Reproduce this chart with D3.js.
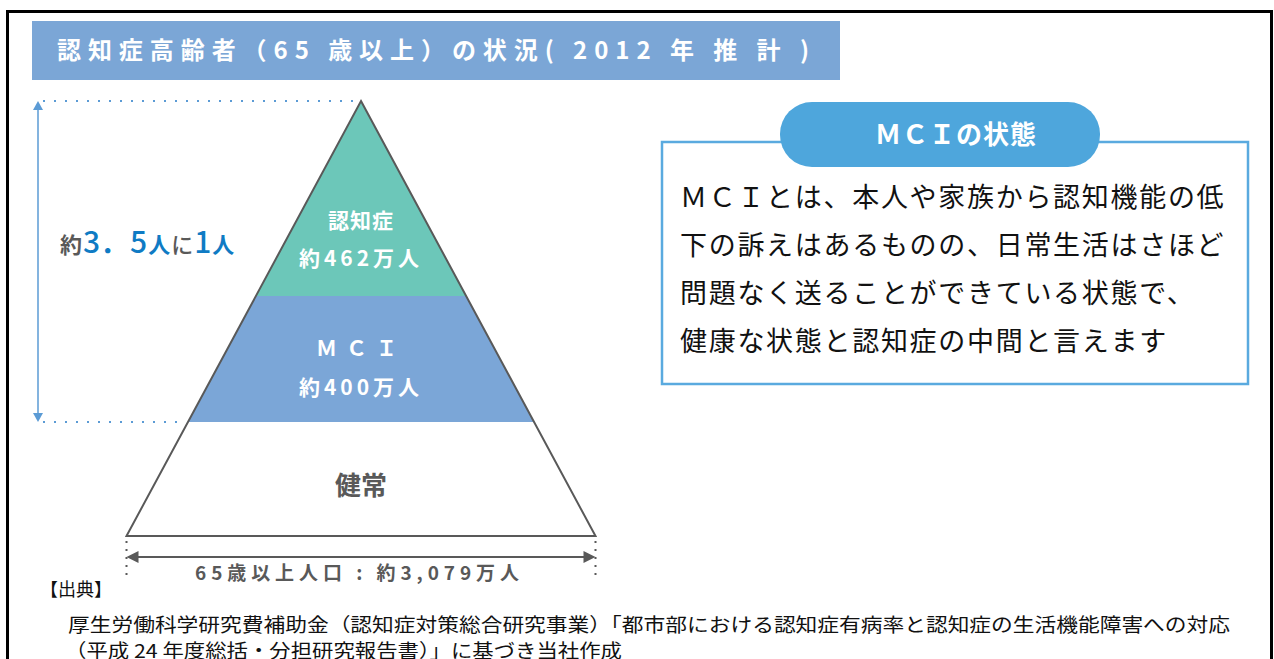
<!DOCTYPE html>
<html>
<head>
<meta charset="utf-8">
<script src="https://cdn.jsdelivr.net/npm/d3@7"></script>
<style>
  body { margin: 0; background: #fff; }
  svg { display: block; font-family: "Noto Sans CJK JP", "Noto Sans", sans-serif; }
</style>
</head>
<body>
<svg class="chart"></svg>
<script>
// data
const segments = ["認知症", "ＭＣＩ", "健常"];
const segmentValues = [462, 400, null];   // 万人
const totalPopulation = "3,079";          // 65歳以上人口 (万人)
const ratioParts = ["約", "3．5", "人", "に", "1", "人"];
const titleText = "認知症高齢者（65 歳以上）の状況( 2012 年 推 計 )";
const boxTitle = "ＭＣＩの状態";
const boxLines = [
  "ＭＣＩとは、本人や家族から認知機能の低",
  "下の訴えはあるものの、日常生活はさほど",
  "問題なく送ることができている状態で、",
  "健康な状態と認知症の中間と言えます"
];
const sourceLines = [
  "【出典】",
  "厚生労働科学研究費補助金（認知症対策総合研究事業）「都市部における認知症有病率と認知症の生活機能障害への対応",
  "（平成 24 年度総括・分担研究報告書）」に基づき当社作成"
];

// layout: where the bands split along the pyramid height (0 = apex, 1 = base)
const bandBreaks = [0, 0.448, 0.738, 1];
const bandFill = ["#6cc7b9", "#7ba6d7", "#ffffff"];

const width = 1274, height = 659;

const svg = d3.select(".chart")
  .attr("width", width)
  .attr("height", height);

// outer frame
svg.append("rect")
  .attr("x", 7.5).attr("y", 11.5)
  .attr("width", 1264).attr("height", 700)
  .attr("fill", "none")
  .attr("stroke", "#000")
  .attr("stroke-width", 3);

// title bar
svg.append("rect")
  .attr("x", 32).attr("y", 21)
  .attr("width", 808).attr("height", 59)
  .attr("fill", "#7ba6d6");

svg.append("text")
  .attr("x", 57).attr("y", 59)
  .attr("fill", "#fff")
  .attr("font-size", 24)
  .attr("font-weight", "bold")
  .attr("textLength", 752)
  .attr("lengthAdjust", "spacing")
  .text(titleText);

// pyramid scales
const apexX = 361;
const y = d3.scaleLinear().domain([0, 1]).range([101, 536]);
const halfW = d3.scaleLinear().domain([0, 1]).range([0, 234.5]);

const bands = segments.map((name, i) => ({
  name, value: segmentValues[i], fill: bandFill[i],
  t0: bandBreaks[i], t1: bandBreaks[i + 1]
}));

const bandPath = d => {
  const pts = [
    [apexX - halfW(d.t0), y(d.t0)], [apexX + halfW(d.t0), y(d.t0)],
    [apexX + halfW(d.t1), y(d.t1)], [apexX - halfW(d.t1), y(d.t1)]
  ];
  return "M" + pts.join("L") + "Z";
};

svg.selectAll("path.band")
  .data(bands)
  .enter()
  .append("path")
    .attr("class", "band")
    .attr("d", bandPath)
    .attr("fill", d => d.fill);

// outline
svg.append("path")
  .attr("d", `M${apexX},${y(0)}L${apexX + halfW(1)},${y(1)}L${apexX - halfW(1)},${y(1)}Z`)
  .attr("fill", "none")
  .attr("stroke", "#595959")
  .attr("stroke-width", 2)
  .attr("stroke-linejoin", "miter");

// band labels
const label = svg.append("g")
  .attr("text-anchor", "middle")
  .attr("font-weight", "bold");

label.append("text")
  .attr("x", apexX).attr("y", 228)
  .attr("fill", "#fff").attr("font-size", 21)
  .attr("letter-spacing", 1)
  .text(segments[0]);
label.append("text")
  .attr("x", apexX).attr("y", 266)
  .attr("fill", "#fff").attr("font-size", 21)
  .attr("letter-spacing", 4)
  .text(`約${segmentValues[0]}万人`);

label.append("text")
  .attr("x", apexX).attr("y", 356)
  .attr("fill", "#fff").attr("font-size", 21)
  .attr("letter-spacing", 9)
  .text(segments[1]);
label.append("text")
  .attr("x", apexX).attr("y", 395)
  .attr("fill", "#fff").attr("font-size", 21)
  .attr("letter-spacing", 4)
  .text(`約${segmentValues[1]}万人`);

label.append("text")
  .attr("x", apexX).attr("y", 495)
  .attr("fill", "#595959").attr("font-size", 26)
  .text(segments[2]);

// vertical span arrow (blue)
const blue = "#5b9bd5";
svg.append("line")
  .attr("x1", 38).attr("x2", 38)
  .attr("y1", y(0) + 6).attr("y2", y(bandBreaks[2]) - 6)
  .attr("stroke", blue).attr("stroke-width", 1.5);
svg.append("path")
  .attr("d", `M38,${y(0)}L33,${y(0) + 9}L43,${y(0) + 9}Z`)
  .attr("fill", blue);
svg.append("path")
  .attr("d", `M38,${y(bandBreaks[2])}L33,${y(bandBreaks[2]) - 9}L43,${y(bandBreaks[2]) - 9}Z`)
  .attr("fill", blue);

// dotted guide lines
svg.append("line")
  .attr("x1", 43).attr("x2", apexX - 2)
  .attr("y1", y(0)).attr("y2", y(0))
  .attr("stroke", blue).attr("stroke-width", 2)
  .attr("stroke-dasharray", "2,9");
svg.append("line")
  .attr("x1", 43).attr("x2", apexX - halfW(bandBreaks[2]) - 4)
  .attr("y1", y(bandBreaks[2])).attr("y2", y(bandBreaks[2]))
  .attr("stroke", blue).attr("stroke-width", 2)
  .attr("stroke-dasharray", "2,9");

// ratio text
const ratio = svg.append("text")
  .attr("x", 60).attr("y", 253);
const ratioStyle = [
  { fill: "#595959", size: 22, weight: "bold" },
  { fill: "#0f7bc4", size: 30, weight: 500 },
  { fill: "#0f7bc4", size: 22, weight: "bold" },
  { fill: "#595959", size: 22, weight: 500 },
  { fill: "#0f7bc4", size: 30, weight: 500 },
  { fill: "#0f7bc4", size: 22, weight: "bold" }
];
ratio.selectAll("tspan")
  .data(ratioParts)
  .enter()
  .append("tspan")
    .attr("fill", (d, i) => ratioStyle[i].fill)
    .attr("font-size", (d, i) => ratioStyle[i].size)
    .attr("font-weight", (d, i) => ratioStyle[i].weight)
    .attr("dx", (d, i) => i === 0 ? 0 : 1)
    .text(d => d);

// horizontal base arrow (gray)
const gray = "#595959";
const bx0 = apexX - halfW(1), bx1 = apexX + halfW(1), by = 557;
svg.append("line")
  .attr("x1", bx0 + 8).attr("x2", bx1 - 8)
  .attr("y1", by).attr("y2", by)
  .attr("stroke", gray).attr("stroke-width", 2);
svg.append("path")
  .attr("d", `M${bx0},${by}L${bx0 + 12},${by - 6}L${bx0 + 12},${by + 6}Z`)
  .attr("fill", gray);
svg.append("path")
  .attr("d", `M${bx1},${by}L${bx1 - 12},${by - 6}L${bx1 - 12},${by + 6}Z`)
  .attr("fill", gray);
[bx0, bx1].forEach(x => {
  svg.append("line")
    .attr("x1", x).attr("x2", x)
    .attr("y1", 541).attr("y2", 580)
    .attr("stroke", gray).attr("stroke-width", 2)
    .attr("stroke-dasharray", "2,6");
});

svg.append("text")
  .attr("x", 195).attr("y", 580)
  .attr("fill", gray)
  .attr("font-size", 19)
  .attr("font-weight", "bold")
  .attr("textLength", 324)
  .attr("lengthAdjust", "spacing")
  .text(`65歳以上人口 : 約${totalPopulation}万人`);

// MCI box
svg.append("rect")
  .attr("x", 662).attr("y", 142)
  .attr("width", 586).attr("height", 242)
  .attr("fill", "#fff")
  .attr("stroke", "#5aaadf")
  .attr("stroke-width", 2.5);

svg.append("rect")
  .attr("x", 780).attr("y", 102)
  .attr("width", 320).attr("height", 65)
  .attr("rx", 32).attr("ry", 32)
  .attr("fill", "#4ea6dc");

svg.append("text")
  .attr("x", 956).attr("y", 144)
  .attr("text-anchor", "middle")
  .attr("fill", "#fff")
  .attr("font-size", 26)
  .attr("font-weight", "bold")
  .attr("letter-spacing", 1)
  .text(boxTitle);

svg.selectAll("text.box-line")
  .data(boxLines)
  .enter()
  .append("text")
    .attr("class", "box-line")
    .attr("x", 680)
    .attr("y", (d, i) => 207 + i * 48)
    .attr("fill", "#111")
    .attr("font-size", 27)
    .attr("letter-spacing", 1.7)
    .text(d => d);

// source notes
const sourceX = [40, 68, 65];
const sourceY = [596, 632, 658];
const sourceLen = [72, 1162, 557];
svg.selectAll("text.source")
  .data(sourceLines)
  .enter()
  .append("text")
    .attr("class", "source")
    .attr("x", (d, i) => sourceX[i])
    .attr("y", (d, i) => sourceY[i])
    .attr("fill", "#111")
    .attr("font-size", (d, i) => i === 0 ? 18 : 19)
    .attr("textLength", (d, i) => sourceLen[i])
    .attr("lengthAdjust", "spacingAndGlyphs")
    .text(d => d);
</script>
</body>
</html>
